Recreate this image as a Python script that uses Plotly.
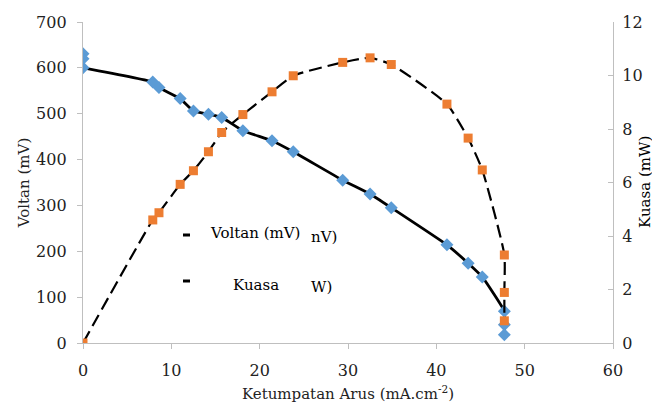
import plotly.graph_objects as go

# Voltage series (left axis)
current = [0, 7.9, 8.6, 11.0, 12.5, 14.2, 15.7, 18.1, 21.4, 23.8, 29.4, 32.5, 34.9, 41.2, 43.6, 45.2, 47.7, 47.7, 47.7]
voltage = [600, 569, 557, 533, 506, 499, 492, 463, 441, 417, 355, 325, 295, 214, 174, 144, 69, 40, 18]
extra_current = [0, 0]
extra_voltage = [631, 620]

# Power series (right axis)
power_current = [0, 7.9, 8.6, 11.0, 12.5, 14.2, 15.7, 18.1, 21.4, 23.8, 29.4, 32.5, 34.9, 41.2, 43.6, 45.2, 47.7, 47.7, 47.7]
power = [0, 4.6, 4.87, 5.93, 6.44, 7.15, 7.87, 8.54, 9.39, 9.99, 10.49, 10.66, 10.41, 8.93, 7.66, 6.47, 3.29, 1.89, 0.83]

x_ticks = [0, 10, 20, 30, 40, 50, 60]
y_ticks = [0, 100, 200, 300, 400, 500, 600, 700]
y2_ticks = [0, 2, 4, 6, 8, 10, 12]

FONT = "DejaVu Serif"
AXIS_COLOR = "#bfbfbf"
BLUE = "#5B9BD5"
ORANGE = "#ED7D31"

fig = go.Figure()
fig.add_trace(go.Scatter(
    x=current, y=voltage, mode="lines+markers", name="Voltan (mV)",
    line=dict(color="black", width=2.8, shape="spline", smoothing=0.35),
    marker=dict(symbol="diamond", size=10, color=BLUE),
    yaxis="y", showlegend=False))
fig.add_trace(go.Scatter(
    x=extra_current, y=extra_voltage, mode="markers",
    marker=dict(symbol="diamond", size=10, color=BLUE),
    yaxis="y", showlegend=False))
fig.add_trace(go.Scatter(
    x=power_current, y=power, mode="lines+markers", name="Kuasa",
    line=dict(color="black", width=2.2, dash="13px,6px", shape="spline", smoothing=0.5),
    marker=dict(symbol="square", size=9, color=ORANGE),
    yaxis="y2", showlegend=False))

# page body has an 8px offset, so the figure is laid out in shifted coordinates
OFF = 8
W, H = 660, 407
L, T = 83 - OFF, 22 - OFF
R = W - (613 - OFF)
B = H - (343 - OFF)
pw, ph = W - L - R, H - T - B

def px(xp):
    return (xp - OFF - L) / pw

def py(yp):
    return (H - B - (yp - OFF)) / ph

annotations = [
    dict(text="Voltan (mV)", x=px(208), y=py(233), xanchor="left", yanchor="middle"),
    dict(text="nV)", x=px(309), y=py(237), xanchor="left", yanchor="middle"),
    dict(text="Kuasa", x=px(231), y=py(285), xanchor="left", yanchor="middle"),
    dict(text="W)", x=px(309), y=py(287), xanchor="left", yanchor="middle"),
    dict(text="Kuasa (mW)", x=px(645), y=py(182), xanchor="center", yanchor="middle",
         textangle=-90),
]
for a in annotations:
    a.update(xref="paper", yref="paper", showarrow=False,
             font=dict(family=FONT, size=15, color="black"))

shapes = [
    dict(type="line", xref="paper", yref="paper", x0=px(183), x1=px(190), y0=py(235), y1=py(235),
         line=dict(color="black", width=3)),
    dict(type="line", xref="paper", yref="paper", x0=px(183), x1=px(190), y0=py(281), y1=py(281),
         line=dict(color="black", width=3)),
]

fig.update_layout(
    width=W, height=H,
    margin=dict(l=L, r=R, t=T, b=B, autoexpand=False),
    paper_bgcolor="white", plot_bgcolor="white",
    font=dict(family=FONT, size=16, color="#222222"),
    annotations=annotations, shapes=shapes,
    xaxis=dict(
        range=[0, 60], tickvals=x_ticks, showgrid=False, zeroline=False,
        showline=True, linecolor=AXIS_COLOR, linewidth=1.3,
        ticks="outside", ticklen=5, tickcolor=AXIS_COLOR,
        ticklabelstandoff=8, automargin=False,
        title=dict(text="Ketumpatan Arus (mA.cm<sup>-2</sup>)", standoff=9,
                   font=dict(family=FONT, size=15)),
    ),
    yaxis=dict(
        range=[0, 700], tickvals=y_ticks, showgrid=False, zeroline=False,
        showline=True, linecolor=AXIS_COLOR, linewidth=1.3,
        ticks="outside", ticklen=5, tickcolor=AXIS_COLOR,
        ticklabelstandoff=7, automargin=False,
        title=dict(text="Voltan (mV)", standoff=2, font=dict(family=FONT, size=15)),
    ),
    yaxis2=dict(
        range=[0, 12], tickvals=y2_ticks, overlaying="y", side="right",
        showgrid=False, zeroline=False,
        showline=True, linecolor=AXIS_COLOR, linewidth=1.3,
        ticks="inside", ticklen=5, tickcolor=AXIS_COLOR,
        ticklabelstandoff=5, automargin=False,
    ),
)

fig.write_html("out.html")
